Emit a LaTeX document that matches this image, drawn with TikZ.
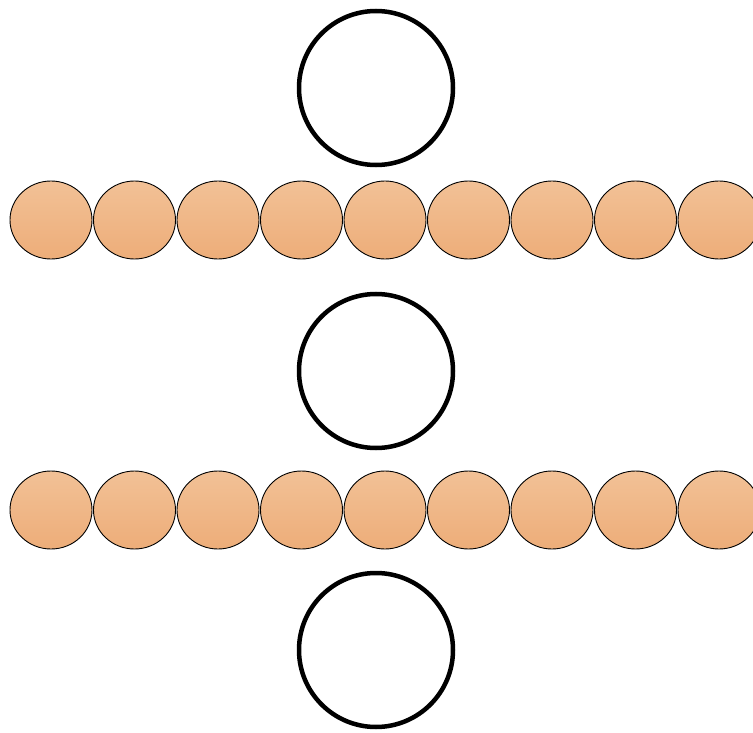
\documentclass[tikz,border=0pt]{standalone}
\usetikzlibrary{shapes.geometric}
\definecolor{beadtop}{RGB}{242,193,150}
\definecolor{beadbot}{RGB}{237,173,121}
\begin{document}
\begin{tikzpicture}[x=1pt,y=-1pt,
  bead/.style={ellipse, draw=black, line width=0.9pt, inner sep=0pt,
    minimum width=82pt, minimum height=78pt,
    top color=beadtop, bottom color=beadbot},
  ring/.style={circle, draw=black, line width=4.5pt, inner sep=0pt,
    minimum size=154pt, fill=white}]
\useasboundingbox (0,0) rectangle (753,733);
\clip (0,0) rectangle (753,733);
% two rows of beads
\foreach \i in {0,...,8} {
  \node[bead] (a\i) at ({51+83.5*\i},220) {};
  \node[bead] (b\i) at ({51+83.5*\i},510) {};
}
% open rings
\node[ring] (r1) at (376,88) {};
\node[ring] (r2) at (376,371) {};
\node[ring] (r3) at (376,650) {};
\end{tikzpicture}
\end{document}
